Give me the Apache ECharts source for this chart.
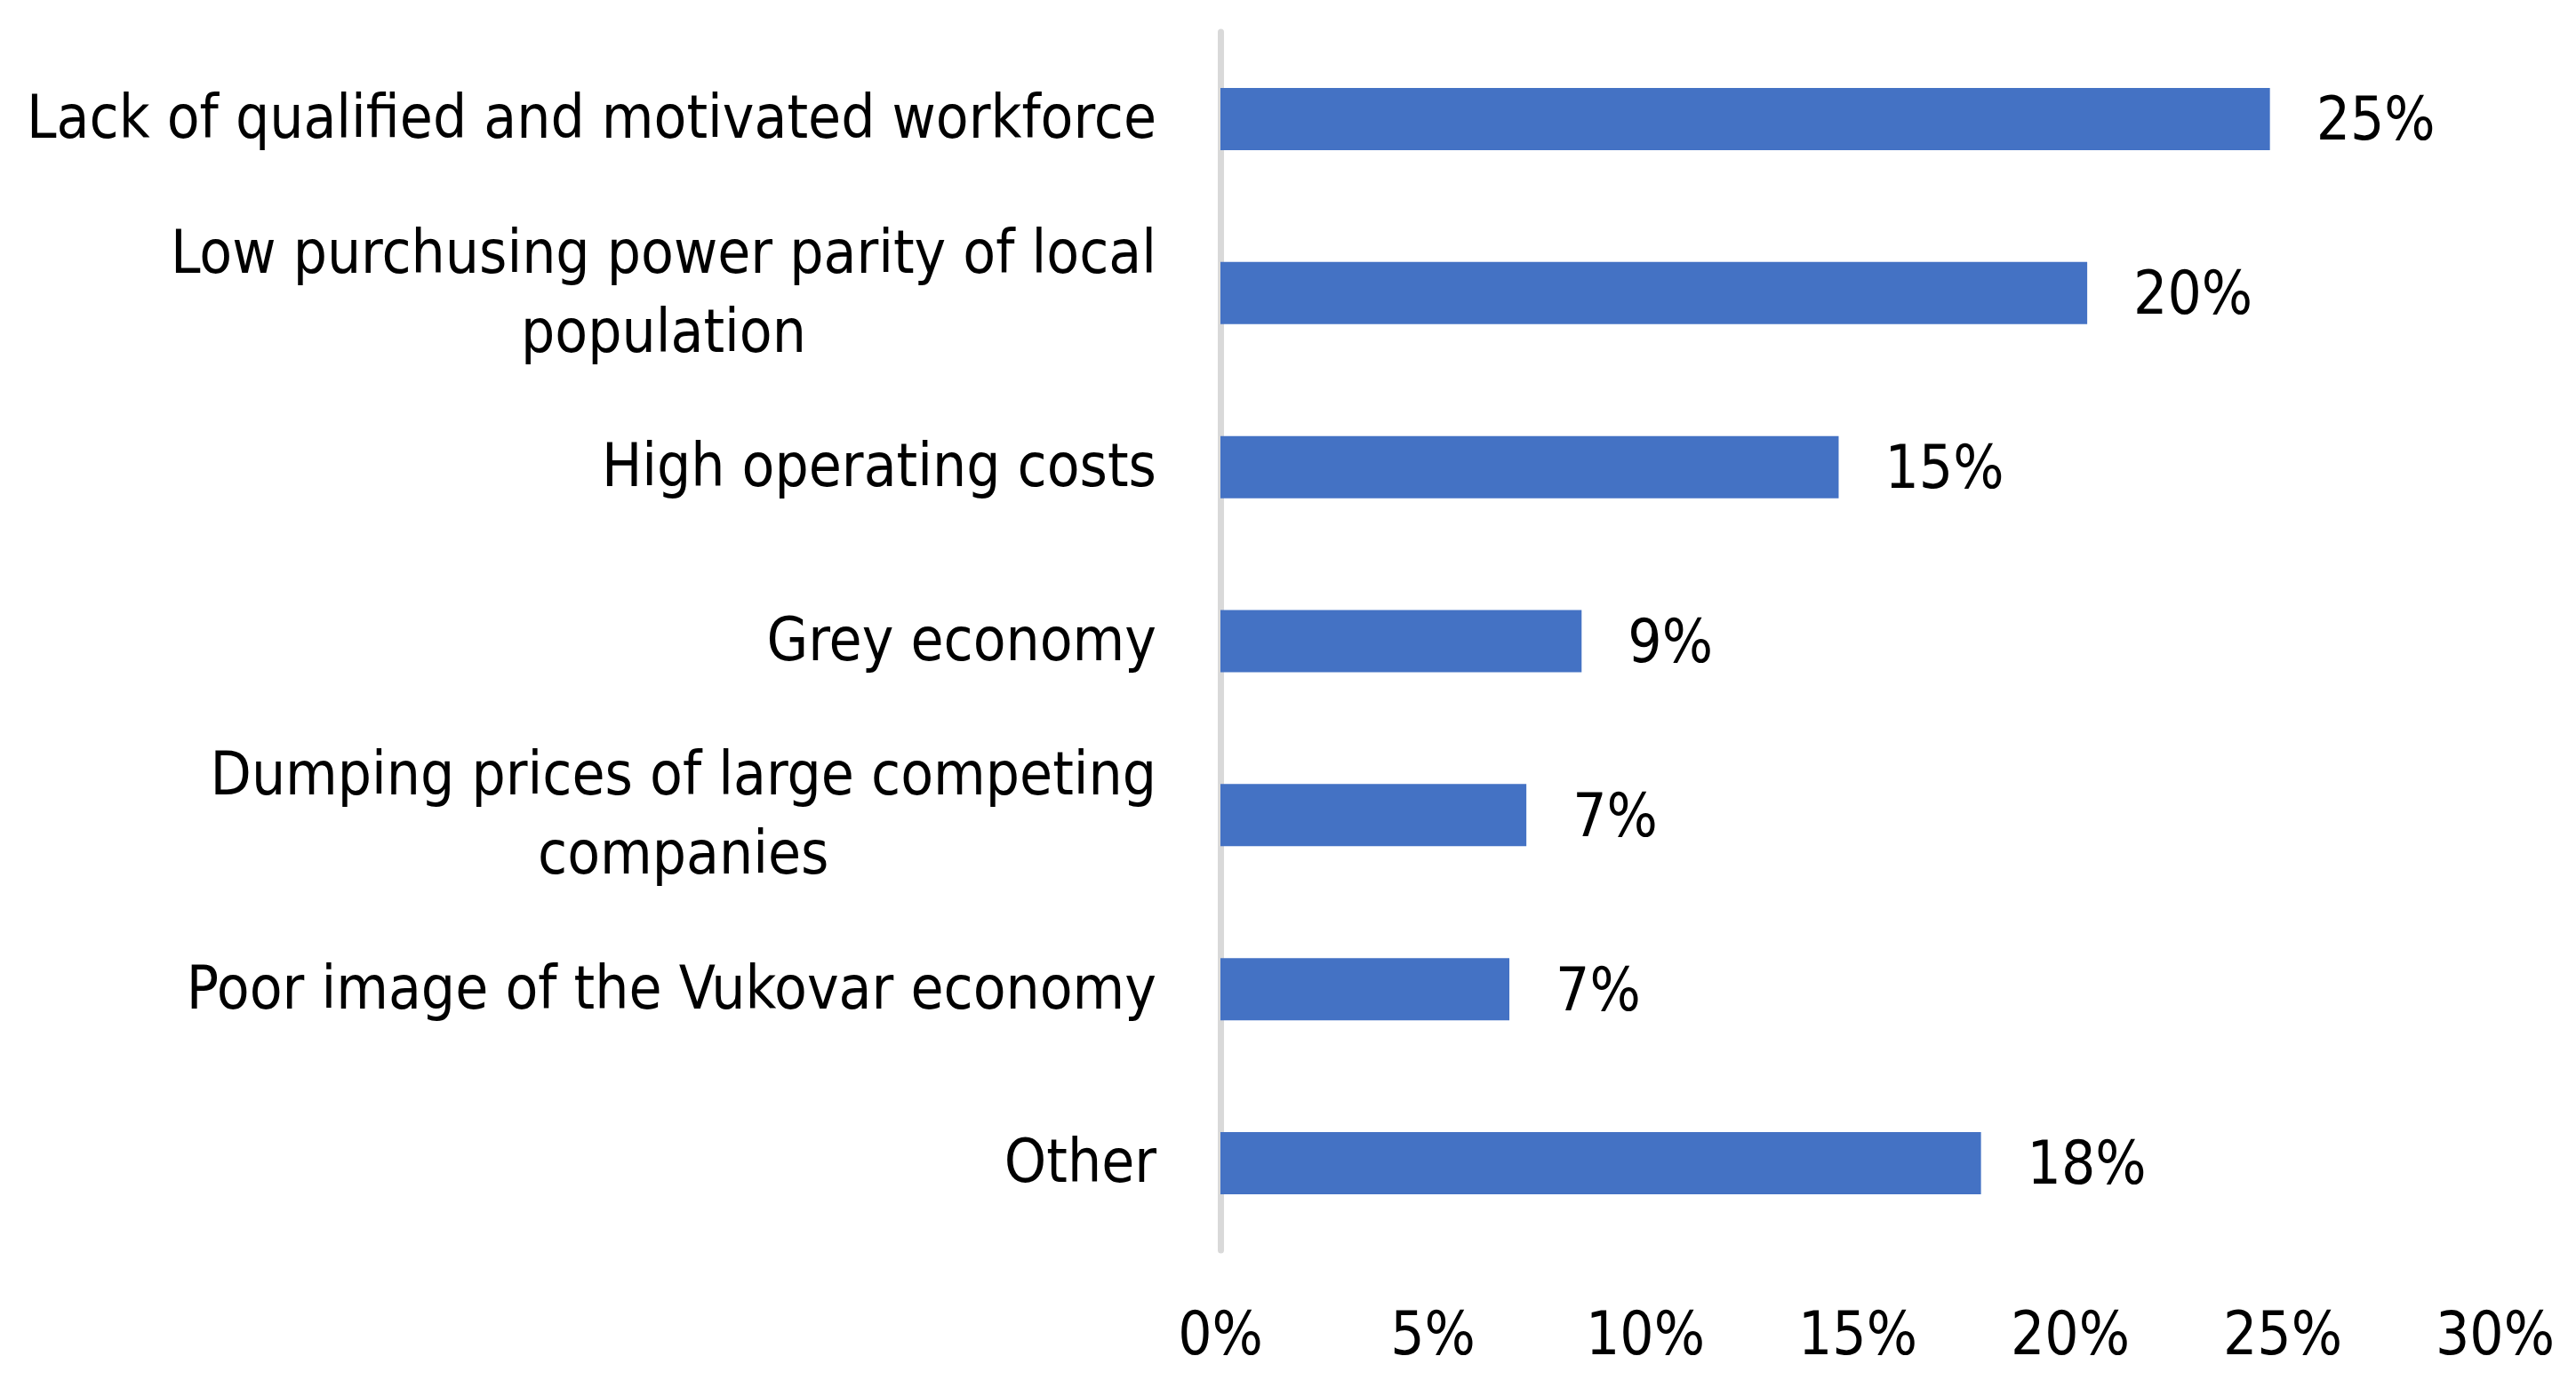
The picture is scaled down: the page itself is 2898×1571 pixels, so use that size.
<!DOCTYPE html>
<html><head><meta charset="utf-8">
<script src="https://cdn.jsdelivr.net/npm/echarts@6/dist/echarts.min.js"></script>
<style>html,body{margin:0;padding:0;background:#fff}#c{width:2898px;height:1571px}</style>
</head><body><div id="c"></div>
<script>
const categories = [
  'Lack of qualified and motivated workforce',
  'Low purchusing power parity of local\npopulation',
  'High operating costs',
  'Grey economy',
  'Dumping prices of large competing\ncompanies',
  'Poor image of the Vukovar economy',
  'Other'
];
const values = [24.7, 20.4, 14.55, 8.5, 7.2, 6.8, 17.9];
const xTicks = { min: 0, max: 30, interval: 5 };

const FONT = '"Liberation Sans Narrow", "DejaVu Sans Condensed", sans-serif';
const FS = 67;
const chart = echarts.init(document.getElementById('c'), null, { renderer: 'canvas' });
chart.setOption({
  animation: false,
  backgroundColor: '#fff',
  grid: { left: 1373, right: 91, top: 36, bottom: 164, containLabel: false, outerBoundsMode: 'none' },
  xAxis: {
    type: 'value', min: xTicks.min, max: xTicks.max, interval: xTicks.interval,
    axisLine: { show: false }, axisTick: { show: false }, splitLine: { show: false },
    axisLabel: { formatter: '{value}%', color: '#000', fontFamily: FONT, fontSize: FS, margin: 66 }
  },
  yAxis: {
    type: 'category', inverse: true, data: categories,
    axisLine: { show: true, lineStyle: { color: '#d9d9d9', width: 7 } },
    axisTick: { show: false },
    axisLabel: {
      margin: 72, color: '#000', fontFamily: FONT, fontSize: FS, align: 'right',
      padding: [8, 0, 0, 0],
      formatter: v => v.split('\n').map(s => '{c|' + s + '}').join('\n'),
      rich: { c: { align: 'center', color: '#000', fontFamily: FONT, fontSize: FS, lineHeight: 89 } }
    }
  },
  series: [{
    type: 'bar', data: values, barWidth: 70,
    itemStyle: { color: '#4472C4' },
    label: {
      show: true, position: 'right', distance: 52, color: '#000',
      fontFamily: FONT, fontSize: FS, offset: [0, 6],
      formatter: p => Math.round(p.value) + '%'
    }
  }]
});
</script></body></html>
